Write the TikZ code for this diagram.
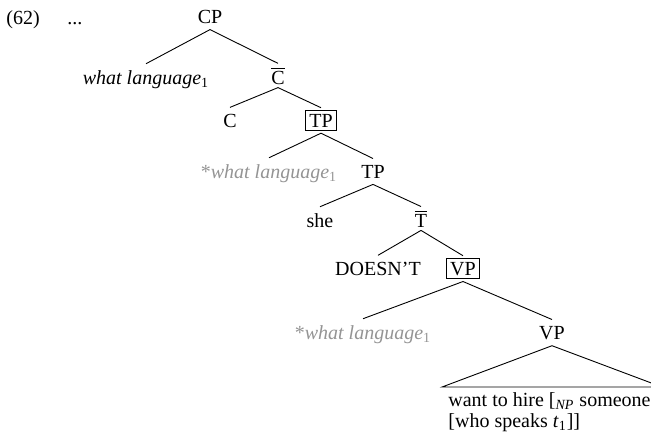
\documentclass[tikz,border=0pt]{standalone}
\usepackage{fontspec}
\setmainfont{Liberation Serif}
\begin{document}
\begin{tikzpicture}[x=0.5pt,y=-0.5pt,
  every node/.style={font=\fontsize{10}{10.5}\selectfont},
  cat/.style={anchor=base, inner sep=3pt},
  barcat/.style={anchor=base, inner xsep=3pt, inner ysep=1.5pt},
  boxed/.style={anchor=base, draw, line width=0.45pt, inner sep=1.8pt, outer sep=1.3pt},
  ghost/.style={anchor=base, inner sep=3pt, text=black!42, font=\fontsize{10}{10.5}\selectfont\itshape},
  edge/.style={line width=0.45pt}]
\useasboundingbox (0,0) rectangle (651,435);
\clip (0,0) rectangle (651,435);
\node[anchor=base west, inner sep=0pt] (ex) at (6,24) {(62)};
\node[anchor=base west, inner sep=0pt] (dots) at (67,24) {...};
\node[cat] (CP) at (210,23) {CP};
\node[cat, font=\fontsize{10}{10.5}\selectfont\itshape] (wl1) at (146,84) {what language\textsubscript{\upshape 1}};
\node[barcat] (Cbar) at (278,84) {$\overline{\mbox{C}}$};
\node[cat] (C) at (230,127) {C};
\node[boxed] (TP1) at (321,127) {TP};
\node[ghost] (gw1) at (269,178) {\upshape*\itshape what language\textsubscript{\upshape 1}};
\node[cat] (TP2) at (373,178) {TP};
\node[cat] (she) at (320,227) {she};
\node[barcat] (Tbar) at (421,227) {$\overline{\mbox{T}}$};
\node[cat] (does) at (378,275) {DOESN'T};
\node[boxed] (VP1) at (463,275) {VP};
\node[ghost] (gw2) at (363,339) {\upshape*\itshape what language\textsubscript{\upshape 1}};
\node[cat] (VP2) at (552,339) {VP};
\coordinate (tl) at (442,387);
\coordinate (tr) at (662,387);
\node[anchor=north west, inner sep=0pt, align=left] (txt) at (448,392)
  {want to hire [\textsubscript{\itshape NP} someone\\\relax [who speaks \textit{t}\textsubscript{1}]]};
\draw[edge] (CP.south) -- (wl1.north);
\draw[edge] (CP.south) -- (Cbar.north);
\draw[edge] (Cbar.south) -- (C.north);
\draw[edge] (Cbar.south) -- (TP1.north);
\draw[edge] (TP1.south) -- (gw1.north);
\draw[edge] (TP1.south) -- (TP2.north);
\draw[edge] (TP2.south) -- (she.north);
\draw[edge] (TP2.south) -- (Tbar.north);
\draw[edge] (Tbar.south) -- (does.north);
\draw[edge] (Tbar.south) -- (VP1.north);
\draw[edge] (VP1.south) -- (gw2.north);
\draw[edge] (VP1.south) -- (VP2.north);
\draw[edge] (VP2.south) -- (tl) -- (tr) -- cycle;
\end{tikzpicture}
\end{document}
